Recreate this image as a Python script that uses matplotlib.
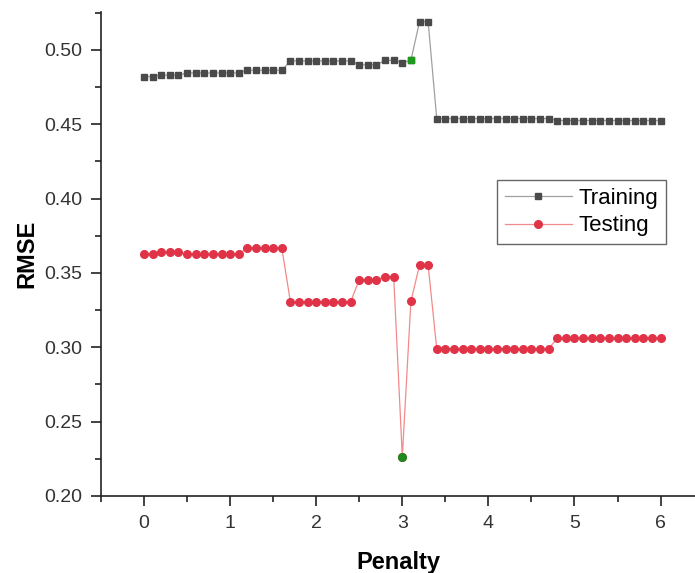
import numpy as np
import matplotlib
matplotlib.use("Agg")
import matplotlib.pyplot as plt
from matplotlib.ticker import MultipleLocator

plt.rcParams['font.family'] = ['Liberation Sans', 'DejaVu Sans']

# penalty values 0.0 .. 6.0 in steps of 0.1
penalty = [round(0.1 * i, 1) for i in range(61)]

# RMSE
training = ([0.482] * 2 + [0.483] * 3 + [0.4845] * 7 + [0.4863] * 5 + [0.4926] * 8
            + [0.490] * 3 + [0.493] * 2 + [0.4915, 0.493, 0.519, 0.519]
            + [0.4538] * 14 + [0.4525] * 13)
testing = ([0.3626] * 2 + [0.3638] * 3 + [0.3626] * 7 + [0.3669] * 5 + [0.3306] * 8
           + [0.3455] * 3 + [0.3474] * 2 + [0.2264, 0.331, 0.3552, 0.3552]
           + [0.2990] * 14 + [0.3062] * 13)

# highlighted (best) points
best_train_x = 3.1
best_test_x = 3.0

fig = plt.figure(figsize=(6.95, 5.73), dpi=100)
ax = fig.add_axes([101 / 695, 1 - 496 / 573, 594 / 695, 484 / 573])

ax.plot(penalty, training, color='#a0a0a0', lw=0.9, marker='s', ms=5,
        mfc='#4a4a4a', mec='#4a4a4a', label='Training')
ax.plot(penalty, testing, color='#f28a8a', lw=0.9, marker='o', ms=5.5,
        mfc='#e03347', mec='#e03347', label='Testing')

i = penalty.index(best_train_x)
ax.plot(penalty[i], training[i], 's', ms=5, color='#1f9a1f')
j = penalty.index(best_test_x)
ax.plot(penalty[j], testing[j], 'o', ms=5.5, color='#1f8a1f')

ax.set_xlim(-0.5, 6.4)
ax.set_ylim(0.20, 0.5255)
ax.xaxis.set_major_locator(MultipleLocator(1))
ax.xaxis.set_minor_locator(MultipleLocator(0.5))
ax.yaxis.set_major_locator(MultipleLocator(0.05))
ax.yaxis.set_minor_locator(MultipleLocator(0.025))
ax.yaxis.set_major_formatter(matplotlib.ticker.FormatStrFormatter('%.2f'))

for side in ['top', 'right']:
    ax.spines[side].set_visible(False)
for side in ['left', 'bottom']:
    ax.spines[side].set_linewidth(1.2)
    ax.spines[side].set_color('#222222')

ax.tick_params(which='major', length=7.5, width=1.2, labelsize=14, pad=6,
               colors='#222222', labelcolor='#333333')
ax.tick_params(which='minor', length=4, width=1.2, colors='#222222')

ax.set_xlabel('Penalty', fontsize=17, fontweight='bold', labelpad=14)
ax.set_ylabel('RMSE', fontsize=17, fontweight='bold', labelpad=4)

leg = ax.legend(loc='upper left', bbox_to_anchor=(0.667, 0.653), borderaxespad=0,
                fontsize=16, fancybox=False, framealpha=1, handlelength=3,
                handletextpad=0.3, borderpad=0.35, labelspacing=0.3)
leg.get_frame().set_edgecolor('#666666')
leg.get_frame().set_linewidth(1.0)

fig.savefig('out.png', dpi=100)
